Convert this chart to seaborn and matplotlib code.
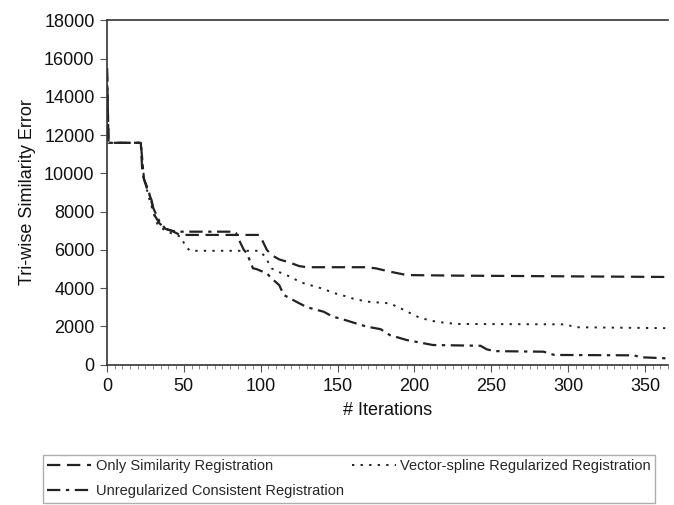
import matplotlib
matplotlib.use("Agg")
import matplotlib.pyplot as plt
import seaborn as sns
from matplotlib.ticker import MultipleLocator

# ---- data ----
x_sim = [0, 1, 22, 23, 26, 29, 31, 34, 38, 42, 47, 52, 99, 101, 104, 107, 112, 119, 125, 130,
         169, 175, 184, 195, 228, 365]
y_sim = [15500, 11600, 11600, 10000, 9200, 8600, 7800, 7400, 7100, 7000, 6800, 6780, 6780, 6500,
         6000, 5730, 5500, 5330, 5150, 5090, 5090, 5030, 4860, 4680, 4650, 4580]

x_vs = [0, 1, 22, 24, 27, 30, 33, 38, 44, 48, 51, 54, 99, 101, 103, 107, 113, 119, 126, 141,
        147, 152, 160, 169, 184, 191, 202, 210, 219, 228, 299, 304, 365]
y_vs = [15500, 11600, 11600, 9800, 8800, 8000, 7300, 7000, 6800, 6690, 6200, 5950, 5950, 5800,
        5640, 5030, 4800, 4600, 4300, 3950, 3750, 3650, 3450, 3290, 3200, 2940, 2500, 2300, 2190,
        2120, 2100, 1950, 1900]

x_uc = [0, 1, 22, 24, 27, 30, 34, 38, 42, 46, 50, 82, 84, 86, 89, 91, 95, 97, 104, 107, 112,
        115, 123, 130, 141, 147, 152, 160, 169, 178, 184, 195, 212, 243, 247, 252, 284, 291,
        343, 347, 365]
y_uc = [15500, 11600, 11600, 9700, 9100, 8200, 7500, 7100, 7000, 6950, 6950, 6950, 6870, 6500,
        6000, 5820, 5030, 5000, 4770, 4510, 4160, 3640, 3290, 3000, 2760, 2500, 2400, 2200, 1980,
        1850, 1540, 1280, 1020, 980, 795, 700, 670, 500, 480, 380, 320]

labels = ["Only Similarity Registration",
          "Unregularized Consistent Registration",
          "Vector-spline Regularized Registration"]

sns.set_theme(style="white")
plt.rcParams["font.family"] = ["Liberation Sans", "DejaVu Sans"]

fig = plt.figure(figsize=(6.74, 5.05), dpi=100)
ax = fig.add_axes([107 / 674, 1 - 364.5 / 505, (668 - 107) / 674, (364.5 - 20.5) / 505])

sns.lineplot(x=x_sim, y=y_sim, ax=ax, color="#222222", lw=1.6, sort=False, estimator=None,
             linestyle=(0, (6, 3)), label=labels[0])
sns.lineplot(x=x_uc, y=y_uc, ax=ax, color="#222222", lw=1.6, sort=False, estimator=None,
             linestyle=(0, (6, 2.5, 1.5, 2.5)), label=labels[1])
sns.lineplot(x=x_vs, y=y_vs, ax=ax, color="#222222", lw=1.4, sort=False, estimator=None,
             linestyle=(0, (1.2, 3.2)), label=labels[2])

ax.set_xlim(0, 365)
ax.set_ylim(0, 18000)
ax.xaxis.set_major_locator(MultipleLocator(50))
ax.xaxis.set_minor_locator(MultipleLocator(5))
ax.yaxis.set_major_locator(MultipleLocator(2000))

for s in ["left", "bottom", "top"]:
    ax.spines[s].set_visible(True)
    ax.spines[s].set_color("#333333")
    ax.spines[s].set_linewidth(1.2)
ax.spines["right"].set_visible(False)

ax.tick_params(axis="both", which="major", direction="out", length=5, width=0.8,
               color="#555555", labelsize=13, labelcolor="#111111", bottom=True, left=True)
ax.tick_params(axis="x", which="minor", direction="out", length=3, width=0.6,
               color="#777777", bottom=True)
ax.tick_params(axis="x", which="major", pad=5)
ax.tick_params(axis="y", which="major", pad=4)

ax.set_xlabel("# Iterations", fontsize=13, color="#111111", labelpad=5)
ax.set_ylabel("Tri-wise Similarity Error", fontsize=13, color="#111111", labelpad=6)

handles, labs = ax.get_legend_handles_labels()
ax.get_legend().remove()
leg = fig.legend(handles, labs, loc="upper left",
                 bbox_to_anchor=(43 / 674, 1 - 455 / 505, (655 - 43) / 674, 0.0),
                 mode="expand", ncol=2, fontsize=10.5, frameon=True, fancybox=False,
                 edgecolor="#999999", handlelength=3.0, handletextpad=0.3,
                 labelspacing=0.75, borderaxespad=0.0, borderpad=0.3)
leg.get_frame().set_linewidth(1.0)

fig.savefig("out.png", dpi=100)
